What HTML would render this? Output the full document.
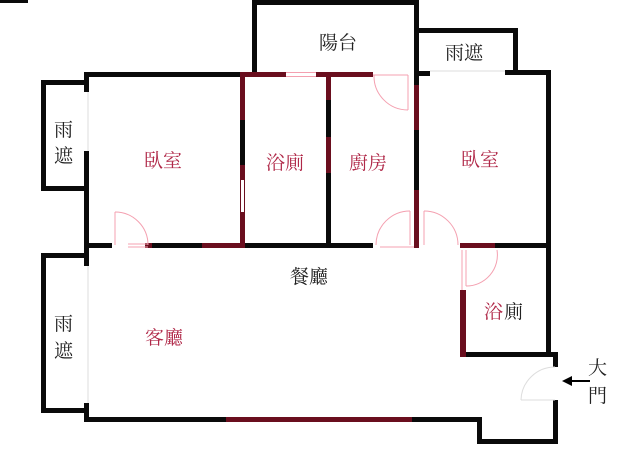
<!DOCTYPE html>
<html><head><meta charset="utf-8"><style>
html,body{margin:0;padding:0;background:#fff;}
svg{display:block}
text{font-family:"Liberation Serif","Noto Serif CJK SC","Noto Sans CJK TC",serif;font-size:19px}
.r{fill:#b02848}.k{fill:#222}
</style></head><body>
<svg width="640" height="453" viewBox="0 0 640 453" xmlns="http://www.w3.org/2000/svg">
<g fill="#0a0a0a">
<rect x="0" y="0" width="28" height="3"/>
<!-- left rain shelters -->
<rect x="41" y="80" width="47" height="5"/><rect x="41" y="80" width="5" height="111"/><rect x="41" y="186" width="47" height="5"/>
<rect x="41" y="253" width="47" height="5"/><rect x="41" y="253" width="5" height="160"/><rect x="41" y="408" width="47" height="5"/>
<!-- main left wall -->
<rect x="84" y="72" width="5" height="20"/><rect x="84" y="151" width="5" height="115"/><rect x="84" y="403" width="5" height="19"/>
<!-- top wall -->
<rect x="84" y="72" width="158" height="5"/>
<!-- balcony -->
<rect x="252" y="0" width="167" height="5"/><rect x="252" y="0" width="5" height="76"/><rect x="414" y="0" width="5" height="85"/>
<rect x="414" y="71" width="16" height="5"/>
<!-- right rain shelter -->
<rect x="418" y="28" width="100" height="5"/><rect x="513" y="28" width="5" height="47"/><rect x="505" y="70" width="46" height="5"/>
<rect x="546" y="70" width="5" height="287"/>
<!-- middle wall -->
<rect x="84" y="243" width="28" height="5"/><rect x="152" y="243" width="50" height="5"/><rect x="240" y="243" width="133" height="5"/>
<rect x="495" y="243" width="56" height="5"/>
<!-- interior verticals black parts -->
<rect x="240" y="120" width="5" height="45"/>
<rect x="326" y="100" width="5" height="37"/><rect x="326" y="173" width="5" height="75"/>
<rect x="414" y="130" width="5" height="60"/>
<!-- bath / entry -->
<rect x="466" y="352" width="91" height="5"/>
<rect x="553" y="352" width="5" height="15"/><rect x="553" y="400" width="5" height="43"/>
<rect x="477" y="439" width="81" height="5"/><rect x="477" y="417" width="5" height="27"/>
<rect x="84" y="417" width="142" height="5"/><rect x="412" y="417" width="70" height="5"/>
</g>
<g fill="#6a0e1e">
<rect x="242" y="72" width="44" height="5"/><rect x="316" y="72" width="57" height="5"/>
<rect x="240" y="72" width="5" height="48"/><rect x="240" y="165" width="5" height="15"/><rect x="240" y="212" width="5" height="36"/>
<rect x="326" y="72" width="5" height="28"/><rect x="326" y="137" width="5" height="36"/>
<rect x="414" y="85" width="5" height="45"/><rect x="414" y="190" width="5" height="58"/>
<rect x="145" y="243" width="7" height="5"/><rect x="202" y="243" width="38" height="5"/>
<rect x="460" y="243" width="35" height="5"/>
<rect x="460" y="290" width="6" height="67"/>
<rect x="226" y="417" width="186" height="5"/>
</g>
<!-- hatched window -->
<g fill="#fff"><rect x="241" y="182" width="3" height="2"/><rect x="241" y="187" width="3" height="2"/><rect x="241" y="192" width="3" height="2"/><rect x="241" y="197" width="3" height="2"/><rect x="241" y="202" width="3" height="2"/><rect x="241" y="207" width="3" height="2"/></g>
<g fill="#6a0e1e"><rect x="240" y="180" width="1" height="32"/><rect x="244" y="180" width="1" height="32"/></g>
<!-- pink windows/doors -->
<g stroke="#f4a0b0" stroke-width="1" fill="none">
<line x1="286" y1="72.5" x2="316" y2="72.5"/><line x1="286" y1="76.5" x2="316" y2="76.5"/>
<line x1="115" y1="212" x2="115" y2="245"/><path d="M115 212 A33 33 0 0 1 148 245"/>
<line x1="128" y1="244" x2="148" y2="244"/><line x1="128" y1="247" x2="148" y2="247"/>
<line x1="408" y1="75" x2="408" y2="110"/><path d="M374 75 A34 34 0 0 0 408 110"/>
<line x1="373" y1="75" x2="408" y2="75"/>
<line x1="410" y1="211" x2="410" y2="245"/><path d="M376 245 A34 34 0 0 1 410 211"/>
<line x1="380" y1="247" x2="414" y2="247"/>
<line x1="424" y1="211" x2="424" y2="245"/><path d="M424 211 A34 34 0 0 1 458 245"/>
<line x1="466" y1="250" x2="466" y2="286"/><path d="M497 250 A31 31 0 0 1 466 286"/>
<line x1="462" y1="250" x2="462" y2="290"/>
</g>
<g stroke="#ddd" stroke-width="1" fill="none">
<line x1="88" y1="92" x2="88" y2="151"/><line x1="88" y1="266" x2="88" y2="403"/>
<path d="M555 367 A34 34 0 0 0 521 400"/><line x1="521" y1="400" x2="555" y2="400"/>
<line x1="430" y1="71" x2="505" y2="71"/>
</g>
<!-- arrow -->
<line x1="590" y1="381" x2="570" y2="381" stroke="#000" stroke-width="2"/>
<polygon points="562,381 572,376 572,386" fill="#000"/>
<!-- labels -->
<text class="k" x="319" y="49">陽台</text>
<text class="k" x="445" y="59">雨遮</text>
<text class="k" x="54" y="136">雨</text><text class="k" x="54" y="162">遮</text>
<text class="k" x="54" y="330">雨</text><text class="k" x="54" y="357">遮</text>
<text class="r" x="144" y="167">臥室</text>
<text class="r" x="266" y="169">浴廁</text>
<text class="r" x="349" y="169">廚房</text>
<text class="r" x="461" y="166">臥室</text>
<text class="k" x="290" y="283">餐廳</text>
<text class="r" x="145" y="344">客廳</text>
<text class="r" x="484" y="318">浴</text><text class="k" x="504" y="318">廁</text>
<text class="k" x="588" y="374">大</text><text class="k" x="588" y="402">門</text>
</svg>
</body></html>
